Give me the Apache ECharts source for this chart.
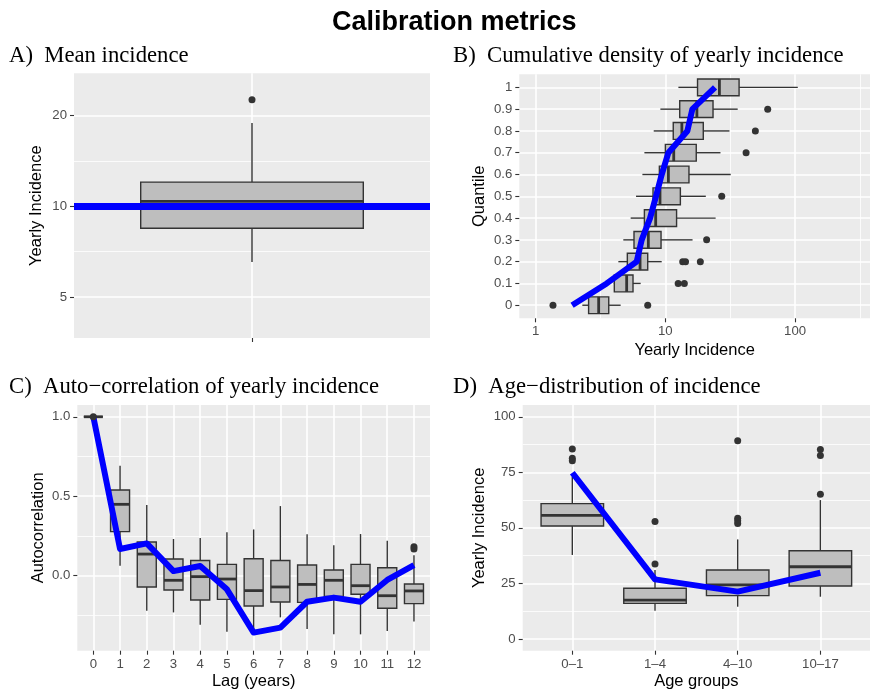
<!DOCTYPE html>
<html><head><meta charset="utf-8">
<script src="https://cdn.jsdelivr.net/npm/echarts@6/dist/echarts.min.js"></script>
<style>html,body{margin:0;padding:0;background:#fff}#c{width:870px;height:696px}</style>
</head><body><div id="c"></div>
<script>
// ---------- Panel A: mean incidence ----------
const aBox = [6.53, 8.46, 10.39, 12.04, 18.9]; // low, q1, median, q3, high
const aOutliers = [22.6];
const aObserved = 10;
const aTicks = [5, 10, 20];
const aMinorTicks = [7.07, 14.14];

// ---------- Panel B: cumulative density ----------
const bQuantiles = [0, 0.1, 0.2, 0.3, 0.4, 0.5, 0.6, 0.7, 0.8, 0.9, 1];
const bLow  = [2.29, 4.00, 4.34, 4.74, 5.40, 5.94, 6.65, 6.89, 8.13, 9.15, 12.6];
const bQ1   = [2.56, 4.04, 5.09, 5.73, 6.89, 8.03, 8.99, 10.0, 11.5, 12.9, 17.7];
const bMed  = [3.06, 5.03, 6.38, 7.39, 8.42, 9.09, 10.55, 11.6, 13.4, 17.5, 26.1];
const bQ3   = [3.66, 5.63, 7.31, 9.26, 12.2, 13.05, 15.2, 17.3, 19.6, 23.3, 37.0];
const bHigh = [4.52, 6.45, 9.37, 16.2, 24.4, 20.5, 31.9, 26.6, 31.2, 36.1, 104.9];
const bOutlierX = [1.36, 7.31, 12.55, 14.0, 13.6, 14.3, 18.6, 20.8, 27.2, 41.9, 49.4, 61.5];
const bOutlierQ = [0, 0, 0.1, 0.1, 0.2, 0.2, 0.2, 0.3, 0.5, 0.7, 0.8, 0.9];
const bObserved = [1.91, 3.53, 6.01, 6.57, 7.62, 8.47, 9.37, 10.55, 14.78, 16.15, 24.15];
const bTicks = [1, 10, 100];
const bMinorTicks = [3.162, 31.62, 316.2];

// ---------- Panel C: auto-correlation ----------
const cLags  = [0, 1, 2, 3, 4, 5, 6, 7, 8, 9, 10, 11, 12];
const cLow   = [1, 0.063, -0.220, -0.231, -0.308, -0.352, -0.370, -0.262, -0.335, -0.369, -0.369, -0.348, -0.289];
const cQ1    = [1, 0.277, -0.071, -0.090, -0.153, -0.149, -0.191, -0.166, -0.168, -0.130, -0.117, -0.205, -0.176];
const cMed   = [1, 0.449, 0.136, -0.029, -0.006, -0.021, -0.094, -0.071, -0.055, -0.029, -0.063, -0.126, -0.096];
const cQ3    = [1, 0.539, 0.212, 0.105, 0.096, 0.071, 0.107, 0.096, 0.067, 0.036, 0.071, 0.050, -0.052];
const cHigh  = [1, 0.692, 0.444, 0.231, 0.237, 0.273, 0.291, 0.438, 0.260, 0.191, 0.262, 0.220, 0.128];
const cOutlierLag = [0, 12, 12];
const cOutlierVal = [1.0, 0.182, 0.168];
const cObserved = [1.0, 0.168, 0.203, 0.029, 0.061, -0.086, -0.358, -0.327, -0.164, -0.138, -0.164, -0.027, 0.067];
const cTicks = [0, 0.5, 1.0];
const cMinorTicks = [-0.25, 0.25, 0.75];

// ---------- Panel D: age distribution ----------
const dAgeGroups = ['0–1', '1–4', '4–10', '10–17'];
const dLow  = [37.8, 12.7, 14.5, 19.0];
const dQ1   = [50.8, 16.0, 19.5, 23.8];
const dMed  = [55.6, 17.5, 24.3, 32.5];
const dQ3   = [60.9, 22.8, 31.0, 39.7];
const dHigh = [73.0, 31.0, 44.8, 62.5];
const dOutlierGroup = [0, 0, 0, 1, 1, 2, 2, 2, 2, 3, 3, 3];
const dOutlierVal = [85.5, 81.3, 80.2, 52.9, 33.7, 89.2, 54.3, 53.2, 52.0, 85.3, 82.6, 65.1];
const dObserved = [74.8, 26.8, 21.3, 29.8];
const dTicks = [0, 25, 50, 75, 100];
const dMinorTicks = [12.5, 37.5, 62.5, 87.5];

// ---------- styling helpers ----------
const SANS = 'Liberation Sans, Arial, sans-serif';
const SERIF = 'Liberation Serif, Times New Roman, serif';
const BOX_FILL = '#BEBEBE', INK = '#333333', BLUE = '#0000FF';

function mainAxis(opt) {
  const ax = {
    gridIndex: opt.grid, type: opt.type || 'value', min: opt.min, max: opt.max,
    position: opt.position,
    axisLine: {show: false, onZero: false},
    axisTick: {show: true, length: 4, lineStyle: {color: INK, width: 1.1}, customValues: opt.ticks},
    axisLabel: {show: opt.showLabels !== false, customValues: opt.ticks, margin: 7, color: '#4D4D4D',
                fontSize: 13.2, fontFamily: SANS},
    splitLine: {show: true, lineStyle: {color: '#FFFFFF', width: 1.6}},
    minorSplitLine: {show: false}
  };
  if (opt.type === 'log') ax.logBase = 10;
  if (opt.fmt) ax.axisLabel.formatter = opt.fmt;
  if (opt.name) {
    ax.name = opt.name; ax.nameLocation = 'middle'; ax.nameGap = opt.nameGap;
    ax.nameRotate = opt.nameRotate || 0;
    ax.nameTextStyle = {fontSize: 16.5, color: '#000000', fontFamily: SANS};
  }
  return ax;
}
function minorAxis(opt) {
  const ax = {
    gridIndex: opt.grid, type: opt.type || 'value', min: opt.min, max: opt.max,
    position: opt.position,
    axisLine: {show: false, onZero: false},
    axisTick: {show: false, customValues: opt.ticks},
    axisLabel: {show: false, customValues: opt.ticks},
    splitLine: {show: true, lineStyle: {color: '#FFFFFF', width: 0.8}}
  };
  if (opt.type === 'log') ax.logBase = 10;
  return ax;
}

function boxRenderer(horizontal, boxSize) {
  return function (params, api) {
    const c = api.value(0);
    const pt = (v) => horizontal ? api.coord([v, c]) : api.coord([c, v]);
    const lo = pt(api.value(1)), q1 = pt(api.value(2)), md = pt(api.value(3)),
          q3 = pt(api.value(4)), hi = pt(api.value(5));
    const h = boxSize / 2;
    const ls = {stroke: INK, lineWidth: 1.4, fill: null};
    const children = [];
    if (horizontal) {
      const y = md[1];
      children.push({type: 'line', shape: {x1: lo[0], y1: y, x2: q1[0], y2: y}, style: ls});
      children.push({type: 'line', shape: {x1: q3[0], y1: y, x2: hi[0], y2: y}, style: ls});
      children.push({type: 'rect', shape: {x: q1[0], y: y - h, width: q3[0] - q1[0], height: boxSize},
                     style: {fill: BOX_FILL, stroke: INK, lineWidth: 1.4}});
      children.push({type: 'line', shape: {x1: md[0], y1: y - h, x2: md[0], y2: y + h},
                     style: {stroke: INK, lineWidth: 2.8}});
    } else {
      const x = md[0];
      children.push({type: 'line', shape: {x1: x, y1: lo[1], x2: x, y2: q1[1]}, style: ls});
      children.push({type: 'line', shape: {x1: x, y1: q3[1], x2: x, y2: hi[1]}, style: ls});
      children.push({type: 'rect', shape: {x: x - h, y: q3[1], width: boxSize, height: q1[1] - q3[1]},
                     style: {fill: BOX_FILL, stroke: INK, lineWidth: 1.4}});
      children.push({type: 'line', shape: {x1: x - h, y1: md[1], x2: x + h, y2: md[1]},
                     style: {stroke: INK, lineWidth: 2.8}});
    }
    return {type: 'group', children: children};
  };
}

function boxSeries(xi, yi, data, horizontal, size) {
  return {
    type: 'custom', xAxisIndex: xi, yAxisIndex: yi, z: 2, silent: true,
    renderItem: boxRenderer(horizontal, size),
    encode: horizontal ? {x: [1, 2, 3, 4, 5], y: 0} : {x: 0, y: [1, 2, 3, 4, 5]},
    data: data
  };
}
function pointSeries(xi, yi, data, extra) {
  return Object.assign({
    type: 'scatter', xAxisIndex: xi, yAxisIndex: yi, z: 4, silent: true,
    symbol: 'circle', symbolSize: 7, itemStyle: {color: INK, opacity: 1}, data: data
  }, extra || {});
}
function blueLine(xi, yi, data) {
  return {
    type: 'line', xAxisIndex: xi, yAxisIndex: yi, z: 3, silent: true,
    showSymbol: false, symbol: 'none',
    lineStyle: {color: BLUE, width: 6, join: 'round', cap: 'butt', opacity: 1},
    data: data
  };
}

// ---------- build data ----------
const aBoxData = [[0].concat(aBox)];
const aOutData = aOutliers.map(v => [0, v]);

const bBoxData = bQuantiles.map((q, i) => [q, bLow[i], bQ1[i], bMed[i], bQ3[i], bHigh[i]]);
const bOutData = bOutlierX.map((x, i) => [x, bOutlierQ[i]]);
const bLineData = bQuantiles.map((q, i) => [bObserved[i], q]);

const cBoxData = cLags.map((l, i) => [l, cLow[i], cQ1[i], cMed[i], cQ3[i], cHigh[i]]);
const cOutData = cOutlierLag.map((l, i) => [l, cOutlierVal[i]]);
const cLineData = cLags.map((l, i) => [l, cObserved[i]]);

const dIdx = dAgeGroups.map((g, i) => i);
const dBoxData = dIdx.map(i => [i, dLow[i], dQ1[i], dMed[i], dQ3[i], dHigh[i]]);
const dOutData = dOutlierGroup.map((g, i) => [g, dOutlierVal[i]]);
const dLineData = dIdx.map(i => [i, dObserved[i]]);

const gridBase = {show: true, backgroundColor: '#EBEBEB', borderWidth: 0, containLabel: false, outerBoundsMode: 'none'};

const option = {
  animation: false,
  backgroundColor: '#FFFFFF',
  grid: [
    Object.assign({left: 74, top: 73.3, width: 356, height: 264.7}, gridBase),
    Object.assign({left: 519.3, top: 74.3, width: 350.7, height: 244}, gridBase),
    Object.assign({left: 77.3, top: 405, width: 352.7, height: 245.7}, gridBase),
    Object.assign({left: 522.7, top: 405, width: 347.3, height: 245.7}, gridBase)
  ],
  xAxis: [
    mainAxis({grid: 0, min: -0.6, max: 0.6, ticks: [0], showLabels: false, position: 'bottom'}),
    mainAxis({grid: 1, type: 'log', min: 0.748, max: 378, ticks: bTicks, position: 'bottom',
              name: 'Yearly Incidence', nameGap: 24}),
    minorAxis({grid: 1, type: 'log', min: 0.748, max: 378, ticks: bMinorTicks, position: 'bottom'}),
    mainAxis({grid: 2, min: -0.6, max: 12.6, ticks: cLags, position: 'bottom',
              fmt: v => String(v), name: 'Lag (years)', nameGap: 22}),
    mainAxis({grid: 3, min: -0.6, max: 3.6, ticks: dIdx, position: 'bottom',
              fmt: v => dAgeGroups[Math.round(v)], name: 'Age groups', nameGap: 22})
  ],
  yAxis: [
    mainAxis({grid: 0, type: 'log', min: 3.655, max: 27.66, ticks: aTicks, position: 'left',
              name: 'Yearly Incidence', nameGap: 29, nameRotate: 90}),
    minorAxis({grid: 0, type: 'log', min: 3.655, max: 27.66, ticks: aMinorTicks, position: 'left'}),
    mainAxis({grid: 1, min: -0.06, max: 1.06, ticks: bQuantiles, position: 'left',
              name: 'Quantile', nameGap: 31, nameRotate: 90}),
    mainAxis({grid: 2, min: -0.472, max: 1.074, ticks: cTicks, position: 'left',
              fmt: v => v.toFixed(1), name: 'Autocorrelation', nameGap: 30, nameRotate: 90}),
    minorAxis({grid: 2, min: -0.472, max: 1.074, ticks: cMinorTicks, position: 'left'}),
    mainAxis({grid: 3, min: -5.3, max: 105.3, ticks: dTicks, position: 'left',
              name: 'Yearly Incidence', nameGap: 34.5, nameRotate: 90}),
    minorAxis({grid: 3, min: -5.3, max: 105.3, ticks: dMinorTicks, position: 'left'})
  ],
  series: [
    // A
    boxSeries(0, 0, aBoxData, false, 222.6),
    pointSeries(0, 0, aOutData, {
      markLine: {silent: true, symbol: 'none', label: {show: false}, z: 5,
                 lineStyle: {color: BLUE, width: 7, type: 'solid', opacity: 1},
                 data: [{yAxis: aObserved}]}
    }),
    // B
    boxSeries(1, 2, bBoxData, true, 16.8),
    pointSeries(1, 2, bOutData),
    blueLine(1, 2, bLineData),
    // C
    boxSeries(3, 3, cBoxData, false, 19),
    pointSeries(3, 3, cOutData),
    blueLine(3, 3, cLineData),
    // D
    boxSeries(4, 5, dBoxData, false, 62.5),
    pointSeries(4, 5, dOutData),
    blueLine(4, 5, dLineData)
  ],
  graphic: [
    {type: 'text', left: 332, top: 9, style: {text: 'Calibration metrics', font: 'bold 27px ' + SANS, fill: '#000'}},
    {type: 'text', x: 9, y: 56, style: {text: 'A)  Mean incidence', font: '22.7px ' + SERIF, fill: '#000', verticalAlign: 'middle'}},
    {type: 'text', x: 453, y: 56, style: {text: 'B)  Cumulative density of yearly incidence', font: '22.7px ' + SERIF, fill: '#000', verticalAlign: 'middle'}},
    {type: 'text', x: 9, y: 387, style: {text: 'C)  Auto−correlation of yearly incidence', font: '22.7px ' + SERIF, fill: '#000', verticalAlign: 'middle'}},
    {type: 'text', x: 453, y: 387, style: {text: 'D)  Age−distribution of incidence', font: '22.7px ' + SERIF, fill: '#000', verticalAlign: 'middle'}}
  ]
};

const chart = echarts.init(document.getElementById('c'), null, {renderer: 'canvas'});
chart.setOption(option);
</script></body></html>
